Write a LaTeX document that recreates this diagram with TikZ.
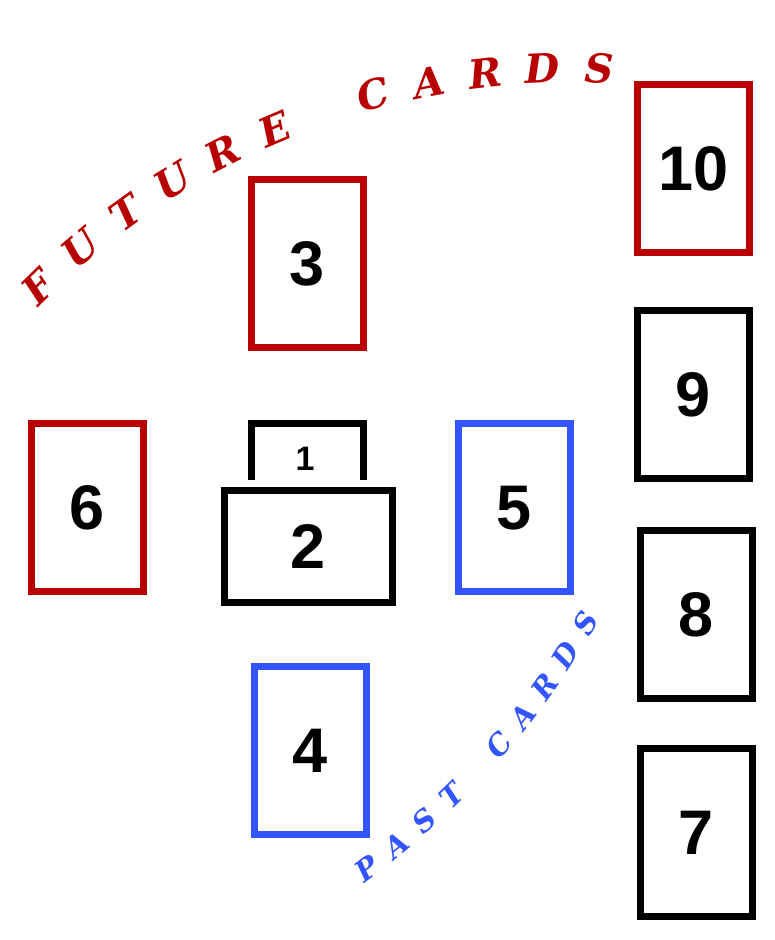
\documentclass[tikz,border=0pt]{standalone}
\usepackage{fontspec}
\newfontfamily\numfont{Liberation Sans}
\newfontfamily\arcfont{DejaVu Serif}
\definecolor{futurered}{RGB}{185,0,0}
\definecolor{pastblue}{RGB}{51,85,255}

\begin{document}
\begin{tikzpicture}[x=1pt, y=1pt,
	card/.style={draw, line width=7pt, minimum width=112pt, minimum height=168pt, inner sep=0pt, font=\numfont\bfseries\fontsize{63}{63}\selectfont},
	redcard/.style={card, draw=futurered},
	bluecard/.style={card, draw=pastblue},
	future/.style={text=futurered, inner sep=0pt, font=\arcfont\bfseries\itshape\fontsize{40}{40}\selectfont},
	past/.style={text=pastblue, inner sep=0pt, font=\arcfont\bfseries\itshape\fontsize{29}{29}\selectfont}]
	\useasboundingbox (0,0) rectangle (774,940);
	% right column
	\node[redcard] (c10) at (693.5,771) {10};
	\node[card] (c9) at (693.5,545) {9};
	\node[card] (c8) at (696,325) {8};
	\node[card] (c7) at (696,107.5) {7};
	% cross
	\node[redcard] (c3) at (307,676.5) {3};
	\node[redcard] (c6) at (87.5,432) {6};
	\node[bluecard] (c5) at (514,432) {5};
	\node[bluecard] (c4) at (310.5,189) {4};
	\node[card] (c1) at (307,432) {};
	\node[font=\numfont\bfseries\fontsize{34}{34}\selectfont] (n1) at (305,481) {1};
	\node[card, minimum width=168pt, minimum height=112pt, fill=white, preaction={draw=white, line width=21pt}] (c2) at (308.5,393.5) {2};
	% arc captions
	\begin{scope}[shift={(573,109)}]
		\foreach \ch/\ang [count=\k] in {F/134.5, U/130.2, T/125.9, U/121.6, R/117.3, E/113.0, C/105.2, A/100.9, R/96.6, D/92.3, S/88.0}
			\node[future, rotate=\ang-90] (fut\k) at (\ang:763) {\ch};
	\end{scope}
	\begin{scope}[shift={(-112,719)}]
		\foreach \ch/\ang [count=\k] in {P/-53.5, A/-50.85, S/-48.2, T/-45.55, C/-40.6, A/-37.95, R/-35.3, D/-32.65, S/-30.0}
			\node[past, rotate=\ang+90] (past\k) at (\ang:805) {\ch};
	\end{scope}
\end{tikzpicture}
\end{document}
